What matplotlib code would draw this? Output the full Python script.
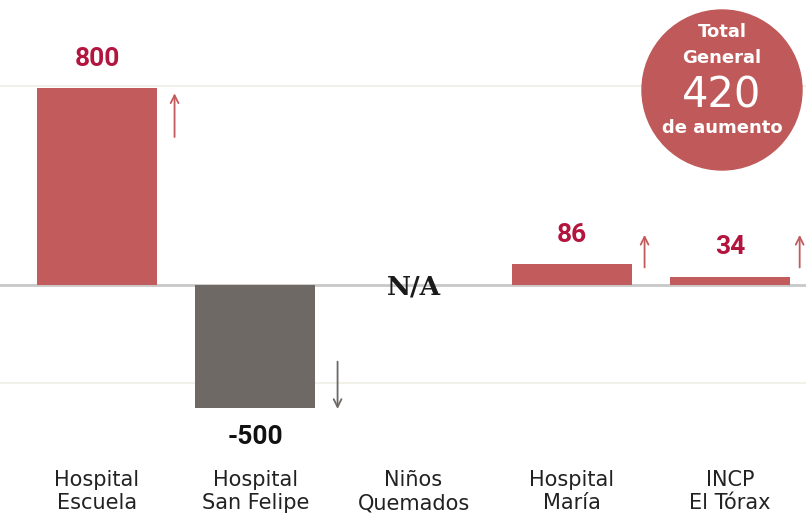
import matplotlib.pyplot as plt
from matplotlib.patches import Circle
from matplotlib.transforms import IdentityTransform

categories = ['Hospital\nEscuela', 'Hospital\nSan Felipe', 'Niños\nQuemados',
              'Hospital\nMaría', 'INCP\nEl Tórax']
values = [800, -500, None, 86, 34]
labels = ['800', '-500', 'N/A', '86', '34']
total = 420

red = '#c25b5b'
grey = '#6f6966'
dark_red = '#b3153f'

fig = plt.figure(figsize=(8.06, 5.21), dpi=100)
ax = fig.add_axes([0, 0, 1, 1])
ax.set_xlim(-0.613, 4.48)
ax.set_ylim(-959, 1158)
ax.axis('off')

# faint guides and zero line
for g in [810, -400]:
    ax.axhline(g, color='#f1f1ea', lw=1.5, zorder=0)
ax.axhline(0, color='#c8c8c8', lw=2, zorder=1)

# arrow spans (x offset from bar centre, tail, head)
arrows = [(0.49, 590, 790), (0.52, -300, -515), None, (0.46, 60, 215), (0.44, 60, 215)]

for i, (v, lab) in enumerate(zip(values, labels)):
    if v is None:
        ax.text(i, -10, lab, ha='center', va='center', fontsize=19,
                fontweight='bold', family='DejaVu Serif', color='#1a1a1a')
        continue
    col = red if v > 0 else grey
    ax.bar(i, v, width=0.76, color=col, zorder=2)
    dx, y0, y1 = arrows[i]
    ax.annotate('', xy=(i + dx, y1), xytext=(i + dx, y0),
                arrowprops=dict(arrowstyle='->', color=col, lw=1.3,
                                mutation_scale=14))
    if v > 0:
        ax.text(i, v + 70, lab, ha='center', va='bottom', fontsize=19,
                fontweight='bold', family='Roboto', color=dark_red)
    else:
        ax.text(i, v - 70, lab, ha='center', va='top', fontsize=19,
                fontweight='bold', family='Roboto', color='#111111')

for i, c in enumerate(categories):
    ax.text(i, -840, c, ha='center', va='center', fontsize=15,
            family='DejaVu Sans', color='#222222', linespacing=1.2)

# total badge
circ = Circle((722, 521 - 90), 80, transform=IdentityTransform(), color='#c0595a', zorder=5)
fig.add_artist(circ)
badge = dict(ha='center', va='center', fontsize=13, fontweight='bold',
             family='DejaVu Sans', color='white', zorder=6)
fig.text(722 / 806, 1 - 32 / 521, 'Total', **badge)
fig.text(722 / 806, 1 - 58 / 521, 'General', **badge)
fig.text(722 / 806, 1 - 95 / 521, str(total), ha='center', va='center', fontsize=30,
         family='DejaVu Sans', color='white', zorder=6)
fig.text(722 / 806, 1 - 128 / 521, 'de aumento', **badge)

fig.savefig('out.png', dpi=100)
